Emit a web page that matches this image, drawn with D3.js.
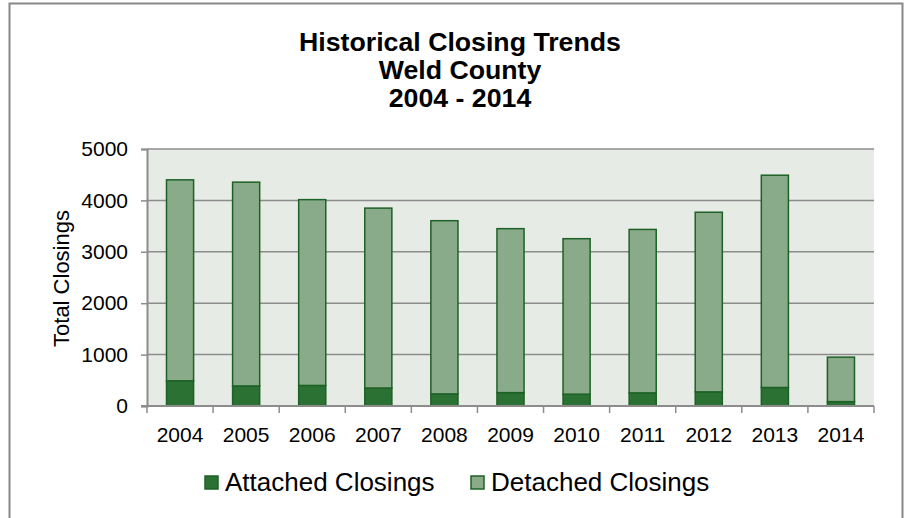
<!DOCTYPE html>
<html lang="en">
<head>
    <meta charset="utf-8">
    <title>Historical Closing Trends</title>
    <script src="https://d3js.org/d3.v7.min.js"></script>
    <style>
        body { margin: 0; background: #fff; }
        text { font-family: "Liberation Sans", Arial, sans-serif; }
    </style>
</head>
<body>
<div id="chart"></div>
<script>
    // chart data
    var years = ["2004", "2005", "2006", "2007", "2008", "2009", "2010", "2011", "2012", "2013", "2014"]
    var attached = [490, 390, 400, 350, 235, 260, 230, 255, 275, 360, 85]
    var totals = [4400, 4355, 4015, 3850, 3605, 3450, 3255, 3435, 3770, 4490, 950]
    var detached = totals.map(function (t, i) { return t - attached[i] })
    var yTicks = [0, 1000, 2000, 3000, 4000, 5000]
    var seriesNames = ["Attached Closings", "Detached Closings"]

    var colors = { attached: "#2b7133", detached: "#8aab8a", stroke: "#1e6126" }

    var W = 905, H = 518
    var margin = { top: 149, right: 31, bottom: 112, left: 147 },
        width = W - margin.left - margin.right,
        height = H - margin.top - margin.bottom;

    var svg = d3.select("#chart")
        .append("svg")
        .attr("width", W)
        .attr("height", H)

    // outer chart frame (open at the bottom)
    svg.append("path")
        .attr("d", "M9.5," + H + "V3.5H902.5V" + H)
        .attr("fill", "none")
        .attr("stroke", "#888")
        .attr("stroke-width", 2)

    // title
    var title = ["Historical Closing Trends", "Weld County", "2004 - 2014"]
    svg.append("g").selectAll("text")
        .data(title)
        .enter()
        .append("text")
        .attr("x", 460)
        .attr("y", function (d, i) { return 51 + i * 28 })
        .attr("text-anchor", "middle")
        .attr("font-weight", "bold")
        .attr("font-size", "26.7px")
        .text(function (d) { return d })

    var g = svg.append("g")
        .attr("transform", "translate(" + margin.left + "," + margin.top + ")")

    var x = d3.scaleBand()
        .domain(years)
        .range([0, width])

    var y = d3.scaleLinear()
        .domain([0, 5000])
        .range([height, 0])

    // plot background
    g.append("rect")
        .attr("width", width)
        .attr("height", height)
        .attr("fill", "#e7ebe6")

    // gridlines
    g.append("g")
        .selectAll("line")
        .data(yTicks.slice(1))
        .enter()
        .append("line")
        .attr("x1", 0)
        .attr("x2", width)
        .attr("y1", function (d) { return y(d) })
        .attr("y2", function (d) { return y(d) })
        .attr("stroke", "#8c8c8c")
        .attr("stroke-width", 1.5)

    // Y axis
    var yAxis = g.append("g")
        .call(d3.axisLeft(y).tickValues(yTicks).tickFormat(d3.format("d")).tickSize(6).tickPadding(13))
    yAxis.selectAll("text").attr("font-size", "21px").attr("fill", "#000")
        .style("font-family", "Liberation Sans, Arial, sans-serif")
    yAxis.select(".domain").attr("stroke", "#8c8c8c").attr("stroke-width", 2)
    yAxis.selectAll(".tick line").attr("stroke", "#8c8c8c").attr("stroke-width", 1.5)

    // bars
    var barW = x.bandwidth() * 0.41
    var bars = g.append("g")
    years.forEach(function (yr, i) {
        var cx = x(yr) + x.bandwidth() / 2
        bars.append("rect")
            .attr("x", cx - barW / 2)
            .attr("y", y(attached[i]))
            .attr("width", barW)
            .attr("height", height - y(attached[i]))
            .attr("fill", colors.attached)
            .attr("stroke", colors.stroke)
            .attr("stroke-width", 1.5)
        bars.append("rect")
            .attr("x", cx - barW / 2)
            .attr("y", y(totals[i]))
            .attr("width", barW)
            .attr("height", y(attached[i]) - y(totals[i]))
            .attr("fill", colors.detached)
            .attr("stroke", colors.stroke)
            .attr("stroke-width", 1.5)
    })

    // X axis with ticks at category boundaries
    var xAxis = g.append("g")
        .attr("transform", "translate(0," + height + ")")
    xAxis.append("line")
        .attr("x1", -6)
        .attr("x2", width)
        .attr("stroke", "#8c8c8c")
        .attr("stroke-width", 2)
    xAxis.selectAll(".xtick")
        .data(years.concat(["end"]))
        .enter()
        .append("line")
        .attr("x1", function (d, i) { return i < years.length ? x(d) : width })
        .attr("x2", function (d, i) { return i < years.length ? x(d) : width })
        .attr("y1", 0)
        .attr("y2", 7)
        .attr("stroke", "#8c8c8c")
        .attr("stroke-width", 1.5)
    xAxis.selectAll(".xlabel")
        .data(years)
        .enter()
        .append("text")
        .attr("x", function (d) { return x(d) + x.bandwidth() / 2 })
        .attr("y", 36)
        .attr("text-anchor", "middle")
        .attr("font-size", "21px")
        .text(function (d) { return d })

    // Y axis title
    svg.append("text")
        .attr("transform", "translate(69," + (margin.top + height / 2 + 1) + ") rotate(-90)")
        .attr("text-anchor", "middle")
        .attr("font-size", "22px")
        .text("Total Closings")

    // legend
    var legend = svg.append("g")
    var legendX = [205, 471]
    var legendFill = [colors.attached, colors.detached]
    seriesNames.forEach(function (name, i) {
        legend.append("rect")
            .attr("x", legendX[i])
            .attr("y", 476)
            .attr("width", 13)
            .attr("height", 13)
            .attr("fill", legendFill[i])
            .attr("stroke", colors.stroke)
            .attr("stroke-width", 1.5)
        legend.append("text")
            .attr("x", legendX[i] + 20)
            .attr("y", 491)
            .attr("font-size", "26px")
            .text(name)
    })
</script>
</body>
</html>
